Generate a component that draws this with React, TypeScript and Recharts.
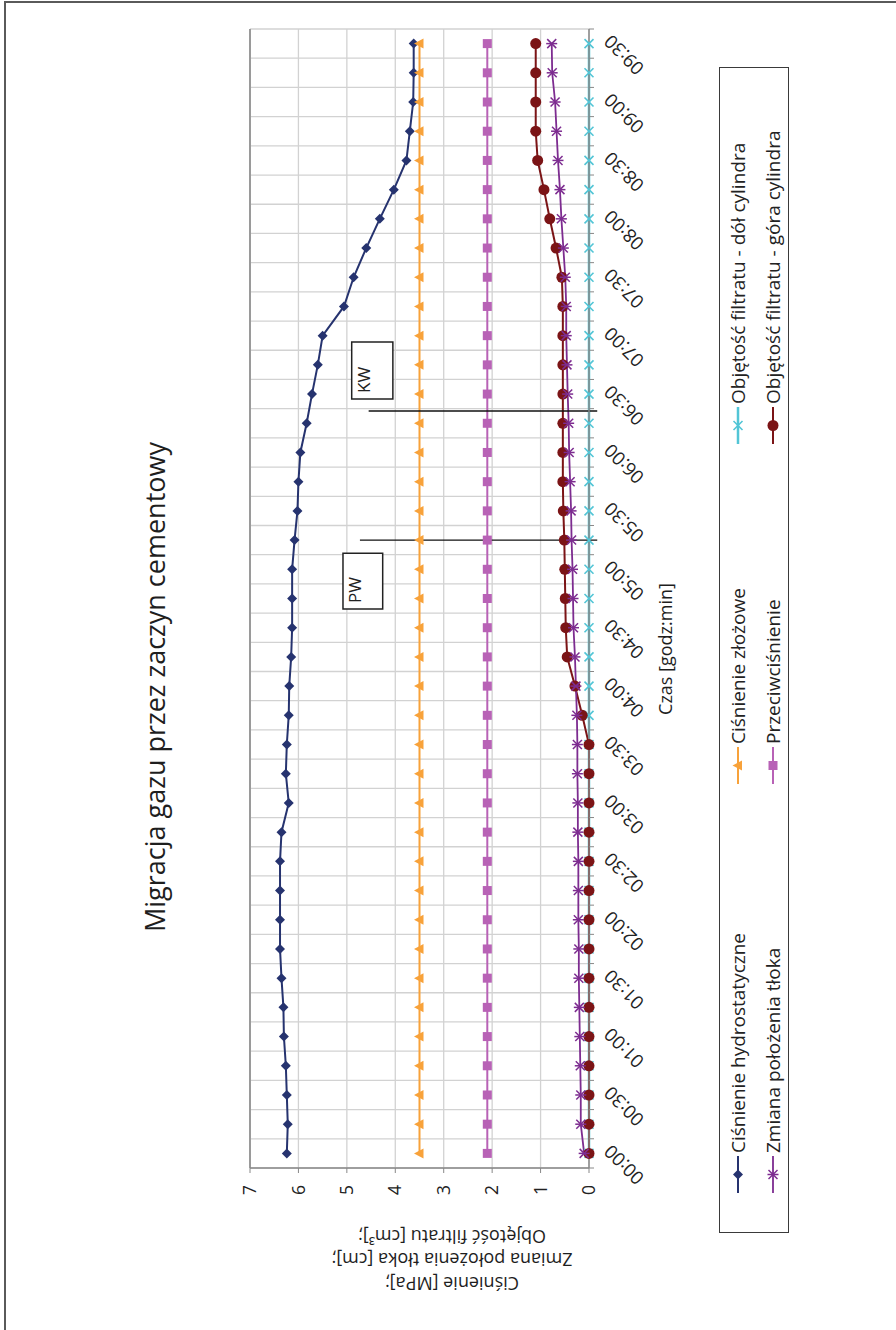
import { LineChart, Line, XAxis, YAxis, CartesianGrid, ReferenceLine, ReferenceArea } from 'recharts';

const FONT = '"Open Sans", "Noto Sans", sans-serif';

// Pomiar co 15 minut, 00:00 - 09:30
const times = [
  '00:00', '00:15', '00:30', '00:45', '01:00', '01:15', '01:30', '01:45', '02:00', '02:15',
  '02:30', '02:45', '03:00', '03:15', '03:30', '03:45', '04:00', '04:15', '04:30', '04:45',
  '05:00', '05:15', '05:30', '05:45', '06:00', '06:15', '06:30', '06:45', '07:00', '07:15',
  '07:30', '07:45', '08:00', '08:15', '08:30', '08:45', '09:00', '09:15', '09:30',
];

const hydro = [
  6.24, 6.22, 6.24, 6.26, 6.3, 6.31, 6.35, 6.38, 6.38, 6.38,
  6.38, 6.35, 6.2, 6.26, 6.24, 6.2, 6.19, 6.15, 6.13, 6.13,
  6.13, 6.08, 6.02, 6.0, 5.96, 5.83, 5.72, 5.6, 5.5, 5.06,
  4.86, 4.6, 4.32, 4.03, 3.77, 3.7, 3.63, 3.62, 3.62,
];

const tlok = [
  0.1, 0.17, 0.17, 0.18, 0.19, 0.2, 0.21, 0.21, 0.22, 0.22,
  0.22, 0.23, 0.23, 0.24, 0.24, 0.25, 0.27, 0.29, 0.32, 0.33,
  0.34, 0.36, 0.37, 0.39, 0.41, 0.42, 0.44, 0.455, 0.47, 0.47,
  0.49, 0.53, 0.57, 0.6, 0.64, 0.67, 0.7, 0.76, 0.77,
];

const zlozowe = times.map(() => 3.5);
const przeciw = times.map(() => 2.1);
const filtratDol = times.map(() => 0);

const filtratGora = [
  0, 0, 0, 0, 0, 0, 0, 0, 0, 0,
  0, 0, 0, 0, 0, 0.14, 0.29, 0.45, 0.48, 0.49,
  0.5, 0.51, 0.53, 0.54, 0.54, 0.54, 0.54, 0.54, 0.54, 0.54,
  0.56, 0.68, 0.81, 0.93, 1.06, 1.1, 1.1, 1.1, 1.1,
];

const valueTicks = [0, 1, 2, 3, 4, 5, 6, 7];

// znaczniki PW / KW (indeks czasu, zakres wartości)
const markers = [
  { text: 'PW', at: 21, from: -0.17, to: 4.73, box: [18.64, 20.55, 4.26, 5.08] },
  { text: 'KW', at: 25.42, from: -0.17, to: 4.55, box: [25.83, 27.78, 4.05, 4.9] },
];

type Shape = 'diamond' | 'triangle' | 'square' | 'cross' | 'star' | 'circle';

const series: { key: string; name: string; color: string; shape: Shape; values: number[]; width: number }[] = [
  { key: 'hydro', name: 'Ciśnienie hydrostatyczne', color: '#26336f', shape: 'diamond', values: hydro, width: 2 },
  { key: 'zloz', name: 'Ciśnienie złożowe', color: '#f8a23a', shape: 'triangle', values: zlozowe, width: 2 },
  { key: 'przeciw', name: 'Przeciwciśnienie', color: '#b862b6', shape: 'square', values: przeciw, width: 2 },
  { key: 'dol', name: 'Objętość filtratu - dół cylindra', color: '#52c5d6', shape: 'cross', values: filtratDol, width: 2.5 },
  { key: 'gora', name: 'Objętość filtratu - góra cylindra', color: '#7b1416', shape: 'circle', values: filtratGora, width: 2 },
  { key: 'tlok', name: 'Zmiana położenia tłoka', color: '#7d2c90', shape: 'star', values: tlok, width: 1.8 },
];

// kolejność w legendzie: dwa wiersze po trzy
const legendRows = [
  ['hydro', 'zloz', 'dol'],
  ['tlok', 'przeciw', 'gora'],
];
const legendCols = [39, 448, 788];
const legendRowY = [18, 53];

const rows = times.map((t, i) => {
  const row: Record<string, number | string> = { i, time: t };
  series.forEach((s) => {
    row[s.key] = s.values[i];
  });
  return row;
});

// granice kategorii: tu stoją linie siatki i kreski osi
const boundaries = [...times.map((_, k) => k - 0.5), times.length - 0.5];

function Marker({ shape, cx, cy, color }: { shape: Shape; cx: number; cy: number; color: string }) {
  switch (shape) {
    case 'diamond':
      return <polygon points={`${cx},${cy - 5} ${cx + 5},${cy} ${cx},${cy + 5} ${cx - 5},${cy}`} fill={color} />;
    case 'triangle':
      return <polygon points={`${cx},${cy - 5.5} ${cx + 5},${cy + 4} ${cx - 5},${cy + 4}`} fill={color} />;
    case 'square':
      return <rect x={cx - 4.5} y={cy - 4.5} width={9} height={9} fill={color} />;
    case 'cross':
      return (
        <g stroke={color} strokeWidth={1.6}>
          <line x1={cx - 4.5} y1={cy - 4.5} x2={cx + 4.5} y2={cy + 4.5} />
          <line x1={cx - 4.5} y1={cy + 4.5} x2={cx + 4.5} y2={cy - 4.5} />
        </g>
      );
    case 'star':
      return (
        <g stroke={color} strokeWidth={1.5}>
          <line x1={cx - 4.5} y1={cy - 4.5} x2={cx + 4.5} y2={cy + 4.5} />
          <line x1={cx - 4.5} y1={cy + 4.5} x2={cx + 4.5} y2={cy - 4.5} />
          <line x1={cx} y1={cy - 5.5} x2={cx} y2={cy + 5.5} />
        </g>
      );
    default:
      return <circle cx={cx} cy={cy} r={5.5} fill={color} />;
  }
}

// kreska stoi na granicy kategorii, etykieta co drugą kategorię na jej środku
function TimeTick(props: any) {
  const { x, y, payload, width } = props;
  const cat = payload.value + 0.5;
  if (cat % 2 !== 0 || cat >= times.length) return <g />;
  const half = (Number(width) || 1139) / times.length / 2;
  const ax = x + half + 10;
  return (
    <text
      x={ax}
      y={y}
      transform={`rotate(-45 ${ax} ${y})`}
      textAnchor="end"
      fontSize={18.5}
      fill="#222"
      fontFamily={FONT}
    >
      {times[cat]}
    </text>
  );
}

function LegendBox() {
  return (
    <div
      style={{
        position: 'absolute',
        left: 97,
        top: 719,
        width: 1166,
        height: 70,
        border: '1.5px solid #3a3a3a',
        boxSizing: 'border-box',
        background: '#fff',
      }}
    >
      {legendRows.map((row, r) =>
        row.map((key, c) => {
          const s = series.find((d) => d.key === key)!;
          return (
            <div
              key={key}
              style={{
                position: 'absolute',
                left: legendCols[c],
                top: legendRowY[r] - 13,
                height: 26,
                display: 'flex',
                alignItems: 'center',
                whiteSpace: 'nowrap',
                fontSize: 19,
                color: '#222',
              }}
            >
              <svg width={37} height={20} style={{ marginRight: 3 }}>
                <line x1={0} y1={10} x2={37} y2={10} stroke={s.color} strokeWidth={s.width} />
                <Marker shape={s.shape} cx={18.5} cy={10} color={s.color} />
              </svg>
              {s.name}
            </div>
          );
        })
      )}
    </div>
  );
}

export default function App() {
  return (
    <div
      style={{
        position: 'absolute',
        left: 0,
        top: 0,
        width: 896,
        height: 1330,
        overflow: 'hidden',
        background: '#fff',
        fontFamily: FONT,
      }}
    >
      <div style={{ position: 'absolute', left: 4, top: 1, width: 960, height: 1400, border: '2px solid #5a5a5a' }} />
      <div
        style={{
          position: 'absolute',
          left: 0,
          top: 0,
          width: 1330,
          height: 896,
          transformOrigin: '0 0',
          transform: 'translate(0px, 1330px) rotate(-90deg)',
        }}
      >
        <div
          style={{
            position: 'absolute',
            left: 643 - 300,
            top: 155 - 19,
            width: 600,
            height: 38,
            lineHeight: '38px',
            textAlign: 'center',
            fontSize: 27,
            color: '#1e1e1e',
          }}
        >
          Migracja gazu przez zaczyn cementowy
        </div>

        <LineChart
          width={1330}
          height={896}
          data={rows}
          margin={{ top: 250, right: 29, bottom: 227, left: 102 }}
        >
          <CartesianGrid stroke="#d2d2d2" strokeWidth={1.3} />
          <XAxis
            type="number"
            dataKey="i"
            domain={[-0.5, times.length - 0.5]}
            ticks={boundaries}
            interval={0}
            tickSize={5}
            tickMargin={18}
            height={80}
            axisLine={{ stroke: '#888', strokeWidth: 1.5 }}
            tickLine={{ stroke: '#888' }}
            tick={<TimeTick />}
          />
          <YAxis
            type="number"
            domain={[0, 7]}
            ticks={valueTicks}
            width={60}
            tickSize={5}
            tickMargin={12}
            axisLine={{ stroke: '#888', strokeWidth: 1.5 }}
            tickLine={{ stroke: '#888' }}
            tick={{ fontSize: 17.5, fill: '#222', fontFamily: FONT }}
          />
          <ReferenceLine y={7} stroke="#9a9a9a" strokeWidth={2} />
          {markers.map((m) => (
            <ReferenceArea
              key={m.text}
              x1={m.box[0]}
              x2={m.box[1]}
              y1={m.box[2]}
              y2={m.box[3]}
              fill="#fff"
              fillOpacity={1}
              stroke="#222"
              strokeWidth={1.5}
              label={{ value: m.text, position: 'insideTopLeft', offset: 6, fontSize: 17, fill: '#222', fontFamily: FONT }}
            />
          ))}
          {series.map((s) => (
            <Line
              key={s.key}
              dataKey={s.key}
              name={s.name}
              stroke={s.color}
              strokeWidth={s.width}
              type="linear"
              isAnimationActive={false}
              activeDot={false}
              dot={(p: any) => (
                <Marker key={`${s.key}-${p.index}`} shape={s.shape} cx={p.cx} cy={p.cy} color={s.color} />
              )}
            />
          ))}
          {markers.map((m) => (
            <ReferenceLine
              key={`l-${m.text}`}
              ifOverflow="visible"
              segment={[
                { x: m.at, y: m.from },
                { x: m.at, y: m.to },
              ]}
              stroke="#111"
              strokeWidth={1.3}
            />
          ))}
        </LineChart>

        <div
          style={{
            position: 'absolute',
            left: 681 - 150,
            top: 665 - 13,
            width: 300,
            height: 26,
            lineHeight: '26px',
            textAlign: 'center',
            fontSize: 18,
            color: '#1e1e1e',
          }}
        >
          Czas [godz:min]
        </div>

        <div
          style={{
            position: 'absolute',
            left: 71 - 170,
            top: 452 - 36,
            width: 340,
            height: 72,
            lineHeight: '23.5px',
            textAlign: 'center',
            fontSize: 18,
            color: '#1e1e1e',
            transform: 'rotate(-90deg)',
            transformOrigin: '50% 50%',
          }}
        >
          Ciśnienie [MPa];
          <br />
          Zmiana położenia tłoka [cm];
          <br />
          Objętość filtratu [cm³];
        </div>

        <LegendBox />
      </div>
    </div>
  );
}
